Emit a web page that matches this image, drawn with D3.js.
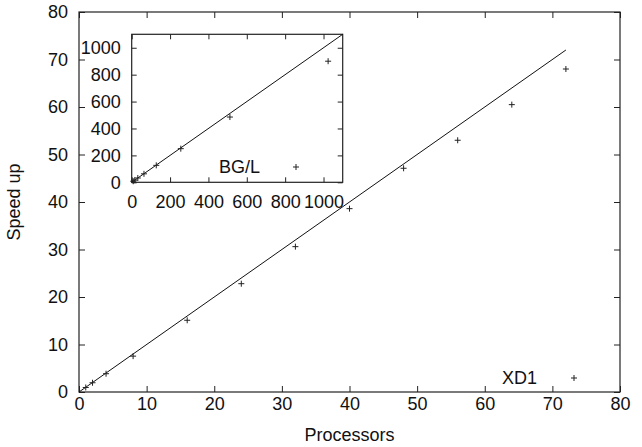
<!doctype html>
<html>
<head>
<meta charset="UTF-8">
<script src="https://d3js.org/d3.v7.min.js"></script>
<style>
body { margin: 0; background: #fff; }
text { font-family: "Liberation Sans", Arial, sans-serif; fill: #111; }
.frame { fill: none; stroke: #222; stroke-width: 1.2; }
.ideal { stroke: #111; stroke-width: 1; fill: none; }
.pt { stroke: #222; stroke-width: 1; }
</style>
</head>
<body>
<script>
// XD1 runs (main plot)
var xd1Procs   = [1, 2, 4, 8, 16, 24, 32, 40, 48, 56, 64, 72];
var xd1Speedup = [0.95, 1.95, 3.85, 7.55, 15.1, 22.8, 30.6, 38.6, 47.1, 53.0, 60.5, 68.0];

// BG/L runs (inset)
var bglProcs   = [8, 16, 32, 64, 128, 256, 512, 1024];
var bglSpeedup = [8, 16, 32, 63, 126, 250, 485, 900];

var mainTicks  = [0, 10, 20, 30, 40, 50, 60, 70, 80];
var insetTicks = [0, 200, 400, 600, 800, 1000];

var w = 642, h = 447;
var svg = d3.select("body").append("svg")
    .attr("width", w)
    .attr("height", h);

// main plot scales
var x = d3.scaleLinear().domain([0, 80]).range([79, 620]);
var y = d3.scaleLinear().domain([0, 80]).range([392, 12]);

// inset scales
var ix = d3.scaleLinear().domain([0, 1100]).range([131.7, 342.7]);
var iy = d3.scaleLinear().domain([0, 1100]).range([182.3, 34.3]);

function styleAxis(g, size) {
  g.select(".domain").remove();
  g.selectAll("line").attr("stroke", "#222");
  g.selectAll("text")
    .style("font-family", '"Liberation Sans", Arial, sans-serif')
    .style("font-size", size + "px")
    .attr("fill", "#111");
}

// draws the four axes (ticks pointing inward) of a framed plot
function drawFrame(sx, sy, ticks, tick, padX, padY, fs) {
  var fmt = d3.format("d");
  svg.append("g")
    .attr("transform", "translate(0," + sy.range()[0] + ")")
    .call(d3.axisBottom(sx).tickValues(ticks).tickFormat(fmt).tickSizeInner(-tick).tickSizeOuter(0).tickPadding(padX))
    .call(styleAxis, fs);
  svg.append("g")
    .attr("transform", "translate(0," + sy.range()[1] + ")")
    .call(d3.axisTop(sx).tickValues(ticks).tickSizeInner(-tick).tickSizeOuter(0).tickFormat(""))
    .call(styleAxis, fs);
  svg.append("g")
    .attr("transform", "translate(" + sx.range()[0] + ",0)")
    .call(d3.axisLeft(sy).tickValues(ticks).tickFormat(fmt).tickSizeInner(-tick).tickSizeOuter(0).tickPadding(padY))
    .call(styleAxis, fs);
  svg.append("g")
    .attr("transform", "translate(" + sx.range()[1] + ",0)")
    .call(d3.axisRight(sy).tickValues(ticks).tickSizeInner(-tick).tickSizeOuter(0).tickFormat(""))
    .call(styleAxis, fs);

  svg.append("rect")
    .attr("class", "frame")
    .attr("x", sx.range()[0])
    .attr("y", sy.range()[1])
    .attr("width", sx.range()[1] - sx.range()[0])
    .attr("height", sy.range()[0] - sy.range()[1]);
}

function plus(g, cx, cy, r) {
  g.append("line").attr("class", "pt")
    .attr("x1", cx - r).attr("x2", cx + r).attr("y1", cy).attr("y2", cy);
  g.append("line").attr("class", "pt")
    .attr("x1", cx).attr("x2", cx).attr("y1", cy - r).attr("y2", cy + r);
}

// ---- main plot ----
drawFrame(x, y, mainTicks, 6, 5, 11, 18);

svg.append("line").attr("class", "ideal")
  .attr("x1", x(0)).attr("y1", y(0))
  .attr("x2", x(72)).attr("y2", y(72));

var pts = svg.append("g");
xd1Procs.forEach(function(p, i) {
  plus(pts, x(p), y(xd1Speedup[i]), 3);
});

// legend
svg.append("text")
  .attr("x", 537).attr("y", 378).attr("dy", "0.35em")
  .attr("text-anchor", "end")
  .style("font-size", "18px")
  .text("XD1");
plus(svg, 574, 378, 3);

// axis titles
svg.append("text")
  .attr("x", (x.range()[0] + x.range()[1]) / 2).attr("y", 441)
  .attr("text-anchor", "middle")
  .style("font-size", "18px")
  .text("Processors");

svg.append("text")
  .attr("transform", "translate(20," + ((y.range()[0] + y.range()[1]) / 2) + ") rotate(-90)")
  .attr("text-anchor", "middle")
  .style("font-size", "18px")
  .text("Speed up");

// ---- inset ----
svg.append("rect")
  .attr("x", ix.range()[0]).attr("y", iy.range()[1])
  .attr("width", ix.range()[1] - ix.range()[0])
  .attr("height", iy.range()[0] - iy.range()[1])
  .attr("fill", "#fff");

drawFrame(ix, iy, insetTicks, 5, 13, 11, 18);

svg.append("line").attr("class", "ideal")
  .attr("x1", ix(0)).attr("y1", iy(0))
  .attr("x2", ix(1100)).attr("y2", iy(1100));

var ipts = svg.append("g");
bglProcs.forEach(function(p, i) {
  plus(ipts, ix(p), iy(bglSpeedup[i]), 3);
});

svg.append("text")
  .attr("x", 260).attr("y", 167).attr("dy", "0.35em")
  .attr("text-anchor", "end")
  .style("font-size", "18px")
  .text("BG/L");
plus(svg, 296, 167, 3);
</script>
</body>
</html>
